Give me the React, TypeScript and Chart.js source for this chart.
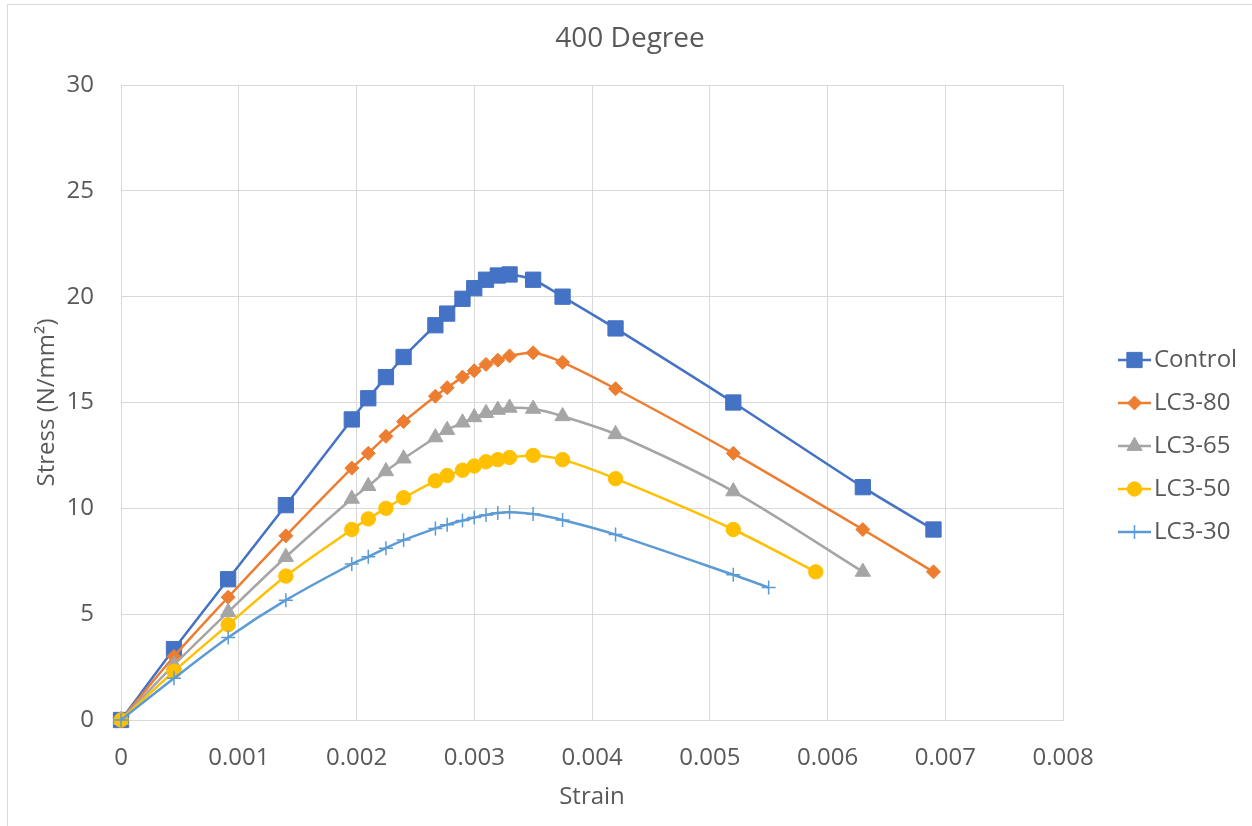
import React, { useEffect, useRef } from "react";
import { Chart, registerables } from "chart.js";

Chart.register(...registerables);

const seriesNames = ["Control", "LC3-80", "LC3-65", "LC3-50", "LC3-30"];

const controlStrain = [0, 0.00045, 0.00091, 0.0014, 0.00196, 0.0021, 0.00225, 0.0024, 0.00267, 0.00277, 0.0029, 0.003, 0.0031, 0.0032, 0.0033, 0.0035, 0.00375, 0.0042, 0.0052, 0.0063, 0.0069];
const controlStress = [0, 3.35, 6.65, 10.15, 14.2, 15.2, 16.2, 17.15, 18.65, 19.2, 19.9, 20.4, 20.8, 21.0, 21.05, 20.8, 20.0, 18.5, 15.0, 11.0, 9.0];

const lc380Strain = [0, 0.00045, 0.00091, 0.0014, 0.00196, 0.0021, 0.00225, 0.0024, 0.00267, 0.00277, 0.0029, 0.003, 0.0031, 0.0032, 0.0033, 0.0035, 0.00375, 0.0042, 0.0052, 0.0063, 0.0069];
const lc380Stress = [0, 3.0, 5.8, 8.7, 11.9, 12.6, 13.4, 14.1, 15.3, 15.7, 16.2, 16.5, 16.8, 17.0, 17.2, 17.35, 16.9, 15.65, 12.6, 9.0, 7.0];

const lc365Strain = [0, 0.00045, 0.00091, 0.0014, 0.00196, 0.0021, 0.00225, 0.0024, 0.00267, 0.00277, 0.0029, 0.003, 0.0031, 0.0032, 0.0033, 0.0035, 0.00375, 0.0042, 0.0052, 0.0063];
const lc365Stress = [0, 2.6, 5.1, 7.7, 10.45, 11.05, 11.75, 12.35, 13.35, 13.7, 14.05, 14.3, 14.5, 14.65, 14.75, 14.7, 14.35, 13.5, 10.8, 7.0];

const lc350Strain = [0, 0.00045, 0.00091, 0.0014, 0.00196, 0.0021, 0.00225, 0.0024, 0.00267, 0.00277, 0.0029, 0.003, 0.0031, 0.0032, 0.0033, 0.0035, 0.00375, 0.0042, 0.0052, 0.0059];
const lc350Stress = [0, 2.3, 4.5, 6.8, 9.0, 9.5, 10.0, 10.5, 11.3, 11.55, 11.8, 12.0, 12.2, 12.3, 12.4, 12.5, 12.3, 11.4, 9.0, 7.0];

const lc330Strain = [0, 0.00045, 0.00091, 0.0014, 0.00196, 0.0021, 0.00225, 0.0024, 0.00267, 0.00277, 0.0029, 0.003, 0.0031, 0.0032, 0.0033, 0.0035, 0.00375, 0.0042, 0.0052, 0.0055];
const lc330Stress = [0, 1.97, 3.9, 5.66, 7.37, 7.71, 8.12, 8.5, 9.05, 9.23, 9.42, 9.57, 9.69, 9.78, 9.81, 9.73, 9.45, 8.76, 6.86, 6.26];

const xTickLabels = ["0", "0.001", "0.002", "0.003", "0.004", "0.005", "0.006", "0.007", "0.008"];
const yTickLabels = ["0", "5", "10", "15", "20", "25", "30"];

const colors = ["#4472C4", "#ED7D31", "#A5A5A5", "#FFC000", "#5B9BD5"];
const pointStyles = ["rect", "rectRot", "triangle", "circle", "cross"];
const pointRadii = [10.8, 7, 8.8, 7.2, 7];

const FONT = "'Open Sans', 'Noto Sans', sans-serif";
const TEXT = "#595959";
const GRID = "#d9d9d9";

function pts(xs: number[], ys: number[]) {
  return xs.map((x, i) => ({ x, y: ys[i] }));
}

function drawMarker(ctx: CanvasRenderingContext2D, style: string, x: number, y: number, r: number, color: string) {
  ctx.save();
  ctx.fillStyle = color;
  ctx.strokeStyle = color;
  ctx.lineWidth = 1;
  ctx.beginPath();
  if (style === "rect") {
    const s = Math.SQRT1_2 * r;
    ctx.rect(x - s, y - s, 2 * s, 2 * s);
    ctx.fill();
    ctx.stroke();
  } else if (style === "rectRot") {
    ctx.moveTo(x, y - r);
    ctx.lineTo(x + r, y);
    ctx.lineTo(x, y + r);
    ctx.lineTo(x - r, y);
    ctx.closePath();
    ctx.fill();
    ctx.stroke();
  } else if (style === "triangle") {
    const a = (2 * Math.PI) / 3;
    ctx.moveTo(x, y - r);
    ctx.lineTo(x + Math.sin(a) * r, y - Math.cos(a) * r);
    ctx.lineTo(x + Math.sin(2 * a) * r, y - Math.cos(2 * a) * r);
    ctx.closePath();
    ctx.fill();
    ctx.stroke();
  } else if (style === "circle") {
    ctx.arc(x, y, r, 0, Math.PI * 2);
    ctx.fill();
    ctx.stroke();
  } else if (style === "cross") {
    ctx.lineWidth = 1.5;
    ctx.moveTo(x, y - r);
    ctx.lineTo(x, y + r);
    ctx.moveTo(x - r, y);
    ctx.lineTo(x + r, y);
    ctx.stroke();
  }
  ctx.restore();
}

const sideLegend = {
  id: "sideLegend",
  afterDraw(chart: any) {
    const ctx: CanvasRenderingContext2D = chart.ctx;
    const ds = chart.data.datasets;
    ds.forEach((d: any, i: number) => {
      const y = 360 + 43 * i;
      ctx.save();
      ctx.strokeStyle = d.borderColor;
      ctx.lineWidth = 2.5;
      ctx.beginPath();
      ctx.moveTo(1118, y);
      ctx.lineTo(1151, y);
      ctx.stroke();
      ctx.restore();
      drawMarker(ctx, d.pointStyle, 1134.5, y, d.pointRadius, d.borderColor);
      ctx.save();
      ctx.fillStyle = TEXT;
      ctx.font = `24px ${FONT}`;
      ctx.textBaseline = "middle";
      ctx.textAlign = "left";
      ctx.fillText(d.label, 1154, y);
      ctx.restore();
    });
  },
};

export default function App() {
  const ref = useRef<HTMLCanvasElement | null>(null);

  useEffect(() => {
    if (!ref.current) return;
    const seriesData = [
      pts(controlStrain, controlStress),
      pts(lc380Strain, lc380Stress),
      pts(lc365Strain, lc365Stress),
      pts(lc350Strain, lc350Stress),
      pts(lc330Strain, lc330Stress),
    ];
    const datasets = seriesNames.map((name, i) => ({
      label: name,
      data: seriesData[i],
      borderColor: colors[i],
      backgroundColor: colors[i],
      pointBackgroundColor: colors[i],
      pointBorderColor: colors[i],
      pointBorderWidth: i === 4 ? 1.5 : 1,
      pointStyle: pointStyles[i],
      pointRadius: pointRadii[i],
      pointHoverRadius: pointRadii[i],
      borderWidth: 2.5,
      tension: 0.3,
      fill: false,
      clip: false,
      order: 4 - i,
      xAxisID: "x",
      yAxisID: "y",
    }));

    const chart = new Chart(ref.current, {
      type: "line",
      data: { datasets } as any,
      options: {
        responsive: false,
        animation: false,
        layout: { padding: { left: 8, right: 0, top: 0, bottom: 0 } },
        plugins: {
          legend: { display: false },
          tooltip: { enabled: false },
          title: {
            display: true,
            text: "400 Degree",
            color: TEXT,
            font: { family: FONT, size: 28, weight: "normal" as any },
            padding: { top: 22.5, bottom: 28.9 },
          },
        },
        scales: {
          x: {
            type: "linear",
            position: "bottom",
            min: 0,
            max: 0.008,
            afterFit: (s: any) => {
              s.height = 106;
            },
            afterBuildTicks: (s: any) => {
              s.ticks = xTickLabels.map((_, i) => ({ value: i * 0.001 }));
            },
            ticks: {
              color: TEXT,
              font: { family: FONT, size: 24 },
              padding: 24,
              maxRotation: 0,
              autoSkip: false,
              callback: (_v: any, i: number) => xTickLabels[i],
            },
            grid: { color: GRID, lineWidth: 1, drawTicks: false },
            border: { display: true, color: GRID, width: 1 },
            title: {
              display: true,
              text: "Strain",
              color: TEXT,
              font: { family: FONT, size: 24 },
              padding: { top: 0, bottom: 14 },
            },
          },
          y: {
            type: "linear",
            position: "left",
            min: 0,
            max: 30,
            afterFit: (s: any) => {
              s.width = 113;
            },
            afterBuildTicks: (s: any) => {
              s.ticks = yTickLabels.map((_, i) => ({ value: i * 5 }));
            },
            ticks: {
              color: TEXT,
              font: { family: FONT, size: 24 },
              padding: 27,
              autoSkip: false,
              callback: (_v: any, i: number) => yTickLabels[i],
            },
            grid: { color: GRID, lineWidth: 1, drawTicks: false },
            border: { display: true, color: GRID, width: 1 },
            title: {
              display: true,
              text: "Stress (N/mm²)",
              color: TEXT,
              font: { family: FONT, size: 24 },
              padding: { top: 24.3, bottom: 0 },
            },
          },
          legendSpace: {
            type: "linear",
            position: "right",
            min: 0,
            max: 30,
            afterFit: (s: any) => {
              s.width = 189;
            },
            ticks: { display: false },
            grid: { display: false, drawTicks: false },
            border: { display: false },
            title: { display: false },
          },
        } as any,
      },
      plugins: [sideLegend],
    });
    return () => chart.destroy();
  }, []);

  return (
    <div style={{ position: "fixed", left: 0, top: 0, width: 1252, height: 826, background: "#fff", overflow: "hidden" }}>
      <div
        style={{
          position: "absolute",
          left: 7,
          top: 4,
          width: 1300,
          height: 900,
          border: "1px solid #d9d9d9",
          boxSizing: "border-box",
        }}
      />
      <canvas ref={ref} width={1252} height={826} style={{ position: "absolute", left: 0, top: 0 }} />
    </div>
  );
}
